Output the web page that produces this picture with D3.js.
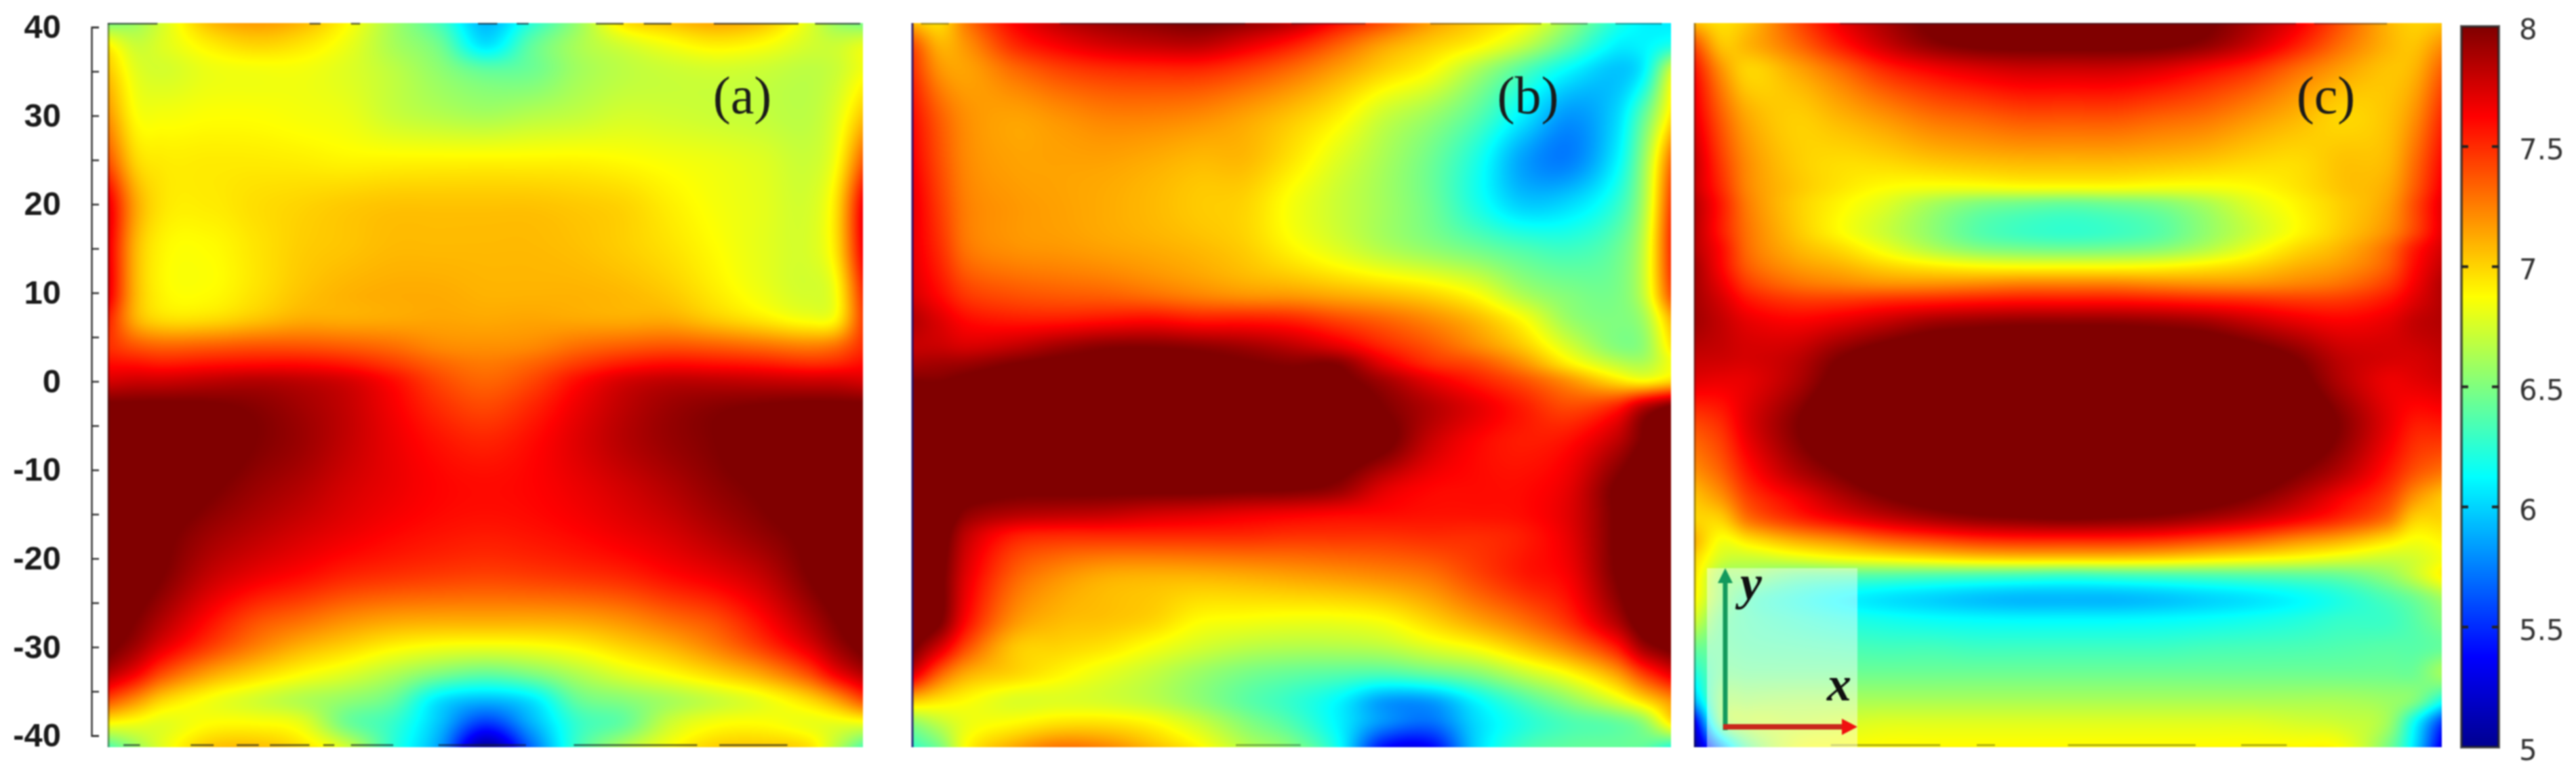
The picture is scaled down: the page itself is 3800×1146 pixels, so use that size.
<!DOCTYPE html>
<html>
<head>
<meta charset="utf-8">
<script src="https://cdn.jsdelivr.net/npm/d3@7"></script>
<style>
  html, body { margin: 0; padding: 0; background: #fff; }
  svg { display: block; filter: blur(0.8px); }
</style>
</head>
<body>
<div id="vis"></div>
<script>
// x positions of the sampled columns, shared by the three maps
var xKnots = [-41, -38, -35, -30, -25, -20, -15, -10, -5, 0, 5, 10, 15, 20, 25, 30, 35, 38, 41];

// values; >8 means inside the saturated dark red area
var yKnotsA = [41, 38, 35, 30, 25, 20, 15, 10, 7, 4, 2, 0, -3, -7, -12, -17, -22, -27, -30, -33, -36, -38.5, -41];
var valuesA = [
  [6.4,6.55,6.75,7.1,7.2,7.12,6.9,6.6,6.3,5.9,6.2,6.55,7.0,7.1,7.18,7.1,6.8,6.55,6.4],
  [6.9,6.72,6.78,6.92,7.0,6.95,6.82,6.62,6.45,6.05,6.4,6.62,6.75,6.85,6.92,6.87,6.75,6.72,6.8],
  [7.05,6.8,6.75,6.82,6.84,6.84,6.78,6.68,6.55,6.42,6.45,6.6,6.68,6.72,6.74,6.72,6.68,6.72,6.85],
  [7.2,6.88,6.85,6.87,6.87,6.85,6.82,6.72,6.66,6.62,6.66,6.7,6.75,6.74,6.72,6.7,6.68,6.78,7.05],
  [7.4,7.0,6.93,6.93,6.93,6.92,6.9,6.9,6.9,6.9,6.9,6.9,6.88,6.85,6.82,6.78,6.72,6.85,7.35],
  [7.7,7.15,6.95,6.93,6.97,7.0,7.03,7.05,7.05,7.05,7.05,7.03,7.0,6.92,6.85,6.8,6.75,6.95,7.65],
  [7.7,7.1,6.9,6.88,6.95,7.02,7.05,7.08,7.08,7.08,7.08,7.06,7.02,6.96,6.88,6.8,6.76,6.95,7.65],
  [7.7,7.1,6.9,6.88,6.96,7.05,7.1,7.12,7.12,7.1,7.1,7.1,7.08,7.03,6.93,6.83,6.75,6.85,7.5],
  [7.55,7.12,6.98,6.98,7.05,7.12,7.12,7.13,7.14,7.13,7.14,7.13,7.12,7.12,7.03,6.94,6.85,6.9,7.45],
  [7.5,7.38,7.33,7.35,7.38,7.38,7.35,7.3,7.22,7.2,7.22,7.3,7.35,7.38,7.35,7.3,7.25,7.3,7.5],
  [7.6,7.58,7.55,7.58,7.6,7.6,7.55,7.45,7.33,7.27,7.33,7.45,7.55,7.6,7.58,7.55,7.5,7.52,7.6],
  [7.75,7.78,7.78,7.82,7.85,7.82,7.75,7.6,7.42,7.33,7.42,7.6,7.75,7.82,7.82,7.8,7.78,7.78,7.75],
  [8.05,8.05,8.05,8.03,7.98,7.9,7.8,7.65,7.5,7.42,7.52,7.68,7.82,7.92,7.98,8.02,8.05,8.05,8.05],
  [8.2,8.2,8.15,8.1,8.0,7.92,7.8,7.68,7.58,7.53,7.6,7.72,7.84,7.93,8.0,8.1,8.15,8.2,8.2],
  [8.2,8.2,8.15,8.03,7.93,7.85,7.75,7.68,7.62,7.6,7.62,7.68,7.76,7.85,7.95,8.03,8.15,8.2,8.2],
  [8.2,8.15,8.05,7.92,7.83,7.75,7.68,7.62,7.58,7.56,7.58,7.62,7.68,7.75,7.85,7.95,8.05,8.15,8.2],
  [8.15,8.1,8.0,7.8,7.68,7.6,7.52,7.48,7.45,7.43,7.45,7.48,7.52,7.6,7.68,7.8,8.0,8.1,8.15],
  [8.1,8.0,7.85,7.6,7.4,7.3,7.2,7.14,7.12,7.12,7.12,7.14,7.2,7.3,7.4,7.6,7.85,8.0,8.1],
  [8.05,7.9,7.7,7.45,7.25,7.1,7.0,6.9,6.84,6.82,6.84,6.9,7.0,7.1,7.25,7.45,7.7,7.9,8.05],
  [7.85,7.65,7.4,7.15,7.0,6.88,6.78,6.65,6.5,6.42,6.5,6.65,6.78,6.88,7.0,7.15,7.4,7.65,7.85],
  [7.4,7.2,7.0,6.85,6.75,6.65,6.55,6.42,6.05,5.92,6.05,6.42,6.52,6.62,6.72,6.82,6.98,7.15,7.4],
  [6.9,6.85,6.8,6.87,6.87,6.8,6.45,6.28,5.95,5.55,5.9,6.28,6.42,6.72,6.85,6.87,6.82,6.82,6.85],
  [6.4,6.6,6.8,7.02,7.05,6.95,6.7,6.25,5.85,5.1,5.7,6.3,6.62,6.85,7.0,7.02,6.95,6.7,6.4]
];

var yKnotsB = [41, 38, 35, 30, 25, 20, 15, 10, 7, 4, 2, 0, -3, -7, -12, -15, -17.5, -22, -27, -30, -33, -36, -38.5, -41];
var valuesB = [
  [7.0,6.95,7.3,7.65,7.85,7.95,8.0,8.05,8.0,7.9,7.65,7.45,7.2,7.05,6.92,6.6,6.25,6.1,6.05],
  [7.4,7.1,7.2,7.5,7.65,7.75,7.8,7.82,7.7,7.55,7.35,7.15,7.02,6.9,6.7,6.4,6.1,6.1,6.2],
  [7.5,7.2,7.15,7.3,7.42,7.48,7.5,7.5,7.42,7.3,7.15,7.0,6.87,6.62,6.35,6.1,5.95,6.1,6.75],
  [7.6,7.35,7.2,7.15,7.2,7.25,7.25,7.22,7.15,7.05,6.92,6.72,6.58,6.38,6.08,5.82,6.0,6.4,6.95],
  [7.65,7.4,7.22,7.15,7.15,7.15,7.12,7.08,7.08,6.95,6.78,6.62,6.45,6.2,5.85,5.75,6.08,6.55,7.3],
  [7.7,7.45,7.25,7.18,7.15,7.12,7.08,7.03,7.0,6.85,6.72,6.6,6.45,6.2,5.98,6.02,6.25,6.62,7.45],
  [7.7,7.5,7.28,7.2,7.18,7.15,7.12,7.08,7.02,6.9,6.78,6.65,6.55,6.45,6.35,6.3,6.42,6.7,7.5],
  [7.75,7.6,7.45,7.38,7.35,7.33,7.28,7.22,7.17,7.15,7.1,7.05,6.98,6.85,6.62,6.5,6.48,6.7,7.4],
  [7.85,7.72,7.6,7.55,7.55,7.58,7.6,7.55,7.55,7.52,7.42,7.33,7.22,7.08,6.87,6.58,6.5,6.6,7.1],
  [7.8,7.78,7.74,7.8,7.9,7.97,7.98,7.95,7.9,7.82,7.7,7.52,7.38,7.22,7.03,6.75,6.52,6.55,6.95],
  [7.88,7.9,7.92,8.0,8.05,8.05,8.05,8.05,8.02,7.98,7.98,7.7,7.5,7.4,7.2,6.92,6.7,6.65,6.85],
  [8.0,8.0,8.05,8.1,8.15,8.15,8.12,8.1,8.07,8.05,8.05,7.9,7.7,7.55,7.4,7.2,6.98,6.9,7.0],
  [8.2,8.2,8.2,8.2,8.2,8.2,8.2,8.2,8.2,8.15,8.15,8.0,7.85,7.7,7.55,7.42,7.55,7.85,8.05],
  [8.2,8.2,8.2,8.2,8.2,8.2,8.2,8.2,8.2,8.2,8.15,8.05,7.78,7.62,7.55,7.6,7.82,8.02,8.1],
  [8.1,8.1,8.1,8.05,8.05,8.05,8.05,8.05,8.03,8.02,7.95,7.72,7.62,7.6,7.6,7.7,8.02,8.15,8.2],
  [8.2,8.15,7.95,7.85,7.82,7.8,7.75,7.72,7.68,7.65,7.62,7.6,7.58,7.58,7.6,7.72,8.02,8.2,8.2],
  [8.2,8.1,7.8,7.55,7.5,7.5,7.5,7.5,7.5,7.48,7.48,7.48,7.5,7.5,7.55,7.7,8.02,8.2,8.2],
  [8.15,8.05,7.7,7.35,7.2,7.12,7.1,7.1,7.12,7.15,7.18,7.22,7.28,7.42,7.55,7.65,8.0,8.15,8.2],
  [8.15,8.02,7.6,7.2,7.08,7.05,7.0,6.88,6.85,6.83,6.83,6.87,7.0,7.15,7.3,7.5,7.85,8.1,8.15],
  [8.05,7.75,7.4,7.05,7.0,6.95,6.85,6.75,6.68,6.65,6.65,6.68,6.78,6.88,7.05,7.25,7.55,7.9,8.05],
  [7.75,7.35,7.12,7.0,6.9,6.8,6.7,6.58,6.48,6.42,6.38,6.35,6.42,6.52,6.7,6.88,7.15,7.45,7.7],
  [7.05,6.95,6.88,6.78,6.78,6.75,6.68,6.55,6.4,6.28,6.12,5.85,5.85,6.12,6.35,6.55,6.78,6.98,7.2],
  [6.55,6.7,6.82,6.88,6.95,6.95,6.88,6.72,6.52,6.35,6.1,5.8,5.7,6.02,6.22,6.35,6.42,6.55,6.95],
  [6.3,6.5,6.88,7.1,7.25,7.2,7.05,6.88,6.65,6.5,6.15,5.45,5.4,6.0,6.3,6.4,6.42,6.42,6.3]
];

var yKnotsC = [41, 38, 35, 30, 25, 22, 20, 17, 15, 13, 11, 9, 6.5, 3, 0, -5, -10, -13, -15.5, -18, -20, -22, -24.5, -27, -30, -33, -36, -38.5, -41];
var valuesC = [
  [7.0,6.95,7.05,7.4,7.7,7.9,8.05,8.15,8.2,8.2,8.2,8.15,8.05,7.9,7.7,7.4,7.1,7.0,7.0],
  [7.4,7.05,7.1,7.3,7.55,7.78,7.95,8.03,8.05,8.05,8.05,8.03,7.95,7.78,7.55,7.3,7.1,7.05,7.2],
  [7.6,7.2,7.0,7.12,7.3,7.5,7.62,7.7,7.75,7.75,7.75,7.7,7.6,7.48,7.3,7.15,7.05,7.1,7.35],
  [7.7,7.35,7.12,7.02,7.1,7.2,7.3,7.35,7.4,7.4,7.4,7.35,7.3,7.2,7.1,7.0,7.05,7.2,7.5],
  [7.8,7.45,7.2,7.03,6.98,7.0,7.05,7.08,7.1,7.1,7.1,7.08,7.05,7.0,6.98,7.05,7.08,7.3,7.6],
  [7.8,7.5,7.22,7.05,6.95,6.88,6.85,6.85,6.87,6.87,6.87,6.85,6.85,6.88,6.95,7.05,7.12,7.35,7.65],
  [7.85,7.55,7.25,7.03,6.9,6.78,6.62,6.5,6.45,6.42,6.45,6.5,6.62,6.78,6.9,7.02,7.15,7.4,7.7],
  [7.85,7.55,7.28,7.05,6.88,6.72,6.55,6.38,6.3,6.27,6.3,6.38,6.55,6.72,6.88,7.03,7.2,7.42,7.7],
  [7.85,7.6,7.3,7.1,6.98,6.82,6.65,6.52,6.47,6.45,6.47,6.52,6.65,6.82,6.98,7.1,7.3,7.55,7.75],
  [7.9,7.62,7.35,7.18,7.1,7.0,6.93,6.88,6.86,6.86,6.86,6.88,6.93,7.0,7.1,7.18,7.35,7.6,7.8],
  [7.9,7.68,7.45,7.3,7.24,7.2,7.2,7.22,7.25,7.25,7.25,7.22,7.2,7.2,7.24,7.3,7.45,7.65,7.85],
  [7.9,7.75,7.58,7.48,7.48,7.52,7.55,7.58,7.6,7.6,7.6,7.58,7.55,7.52,7.48,7.48,7.58,7.72,7.85],
  [7.9,7.8,7.7,7.65,7.72,7.82,7.92,7.96,7.98,7.98,7.98,7.96,7.92,7.82,7.72,7.65,7.7,7.8,7.85],
  [7.8,7.78,7.75,7.8,7.98,8.1,8.15,8.15,8.15,8.15,8.15,8.15,8.15,8.1,7.98,7.8,7.75,7.75,7.8],
  [7.7,7.68,7.7,7.85,8.08,8.2,8.2,8.2,8.2,8.2,8.2,8.2,8.2,8.2,8.08,7.85,7.68,7.7,7.75],
  [7.4,7.5,7.72,7.98,8.2,8.2,8.2,8.2,8.2,8.2,8.2,8.2,8.2,8.2,8.2,7.98,7.7,7.55,7.55],
  [7.2,7.35,7.58,7.85,8.02,8.15,8.2,8.2,8.2,8.2,8.2,8.2,8.2,8.15,8.02,7.85,7.58,7.4,7.3],
  [7.05,7.2,7.45,7.65,7.85,8.0,8.08,8.1,8.1,8.1,8.1,8.1,8.08,8.0,7.85,7.65,7.45,7.2,7.05],
  [7.0,7.02,7.3,7.5,7.65,7.78,7.88,7.95,7.98,8.0,7.98,7.95,7.88,7.78,7.65,7.5,7.3,7.02,7.0],
  [7.1,6.85,6.95,7.1,7.2,7.32,7.4,7.47,7.5,7.5,7.5,7.47,7.4,7.32,7.2,7.1,6.95,6.85,6.9],
  [7.0,6.75,6.72,6.78,6.85,6.9,6.95,7.0,7.02,7.02,7.02,7.0,6.95,6.9,6.85,6.78,6.72,6.75,6.85],
  [6.95,6.6,6.55,6.42,6.38,6.36,6.34,6.32,6.3,6.28,6.3,6.32,6.34,6.36,6.38,6.42,6.55,6.7,6.9],
  [6.9,6.55,6.35,6.22,6.12,6.05,6.0,5.95,5.92,5.92,5.92,5.95,6.0,6.05,6.12,6.22,6.35,6.45,6.6],
  [6.75,6.45,6.35,6.28,6.22,6.18,6.15,6.13,6.12,6.12,6.12,6.13,6.15,6.18,6.22,6.28,6.3,6.38,6.5],
  [6.45,6.42,6.38,6.36,6.34,6.32,6.32,6.3,6.3,6.3,6.3,6.3,6.32,6.33,6.34,6.36,6.38,6.38,6.42],
  [6.2,6.45,6.45,6.45,6.45,6.45,6.45,6.45,6.45,6.45,6.45,6.45,6.45,6.45,6.45,6.45,6.45,6.45,6.6],
  [5.9,6.55,6.6,6.62,6.62,6.62,6.62,6.62,6.62,6.62,6.62,6.62,6.62,6.62,6.62,6.62,6.58,6.5,6.2],
  [5.3,6.5,6.7,6.72,6.75,6.78,6.78,6.78,6.78,6.78,6.78,6.78,6.78,6.78,6.75,6.72,6.6,6.15,5.55],
  [5.05,5.9,6.45,6.8,6.85,6.88,6.88,6.88,6.88,6.88,6.88,6.88,6.88,6.88,6.88,6.85,6.5,6.05,5.3]
];

// dark scan marks along the top and bottom edges, [from, to] in x units
var marksTopA = [[-41,-35.6],[-19.1,-17.9],[-14.6,-13.6],[-0.8,1.3],[3.4,4.7],[12,15],[17.2,20.2],[24.8,34],[35.8,40.7]];
var marksBottomA = [[-39.3,-37.5],[-32,-29.5],[-27,-24.6],[-23.4,-19.1],[-17.6,-16.4],[-14.6,-10],[-5.1,4.4],[9.6,23],[25.4,32.8]];
var marksTopB = [[-40,-37],[-25,-5],[0,8],[15,27],[28,32],[35,40]];
var marksBottomB = [[-6,1]];
var marksTopC = [[-25,25],[27,35]];
var marksBottomC = [[-26,-14],[-10,-8],[0,14],[19,24]];

var yMajor = [40, 30, 20, 10, 0, -10, -20, -30, -40];
var yMinor = [35, 25, 15, 5, -5, -15, -25, -35];
var barTicks = [8, 7.5, 7, 6.5, 6, 5.5, 5];

var panelLabels = ["(a)", "(b)", "(c)"];

var width = 3800;
var height = 1146;

// jet colour map between 5 and 8, saturated at both ends
var jetDomain = [5, 5.375, 6.125, 6.875, 7.625, 8];
var jetRange = ["#00008f", "#0000ff", "#00ffff", "#ffff00", "#ff0000", "#800000"];
var color = d3.scaleLinear().domain(jetDomain).range(jetRange).clamp(true);

var yScale = d3.scaleLinear().domain([40, -40]).range([40, 1085]);
var barScale = d3.scaleLinear().domain([8, 5]).range([39, 1102]);

var panels = [
  { label: panelLabels[0], left: 159, right: 1273, labelX: 1095, rows: yKnotsA, values: valuesA, top: marksTopA, bottom: marksBottomA, edge: "#222", edgeOpacity: 0.45, markOpacity: 0.7 },
  { label: panelLabels[1], left: 1345, right: 2465, labelX: 2254, rows: yKnotsB, values: valuesB, top: marksTopB, bottom: marksBottomB, edge: "#1a1070", edgeOpacity: 0.9, markOpacity: 0.4 },
  { label: panelLabels[2], left: 2499, right: 3602, labelX: 3431, rows: yKnotsC, values: valuesC, top: marksTopC, bottom: marksBottomC, edge: "#222", edgeOpacity: 0.4, markOpacity: 0.4 }
];

// Hermite shading between the samples on an uneven grid
function hermite(knots, vals, v) {
  var n = knots.length;
  var asc = knots[1] > knots[0];
  var i = 0;
  while (i < n - 2 && (asc ? v > knots[i + 1] : v < knots[i + 1])) i++;
  var h = knots[i + 1] - knots[i];
  var t = (v - knots[i]) / h;
  var m0 = i > 0 ? (vals[i + 1] - vals[i - 1]) / (knots[i + 1] - knots[i - 1]) : (vals[1] - vals[0]) / h;
  var m1 = i < n - 2 ? (vals[i + 2] - vals[i]) / (knots[i + 2] - knots[i]) : (vals[n - 1] - vals[n - 2]) / h;
  var t2 = t * t, t3 = t2 * t;
  return (2 * t3 - 3 * t2 + 1) * vals[i] + (t3 - 2 * t2 + t) * h * m0 +
    (-2 * t3 + 3 * t2) * vals[i + 1] + (t3 - t2) * h * m1;
}

function heatmapUrl(p, x, pxTop, pxBottom) {
  var w = p.right - p.left, h = pxBottom - pxTop;
  var canvas = document.createElement("canvas");
  canvas.width = w;
  canvas.height = h;
  var ctx = canvas.getContext("2d");
  var img = ctx.createImageData(w, h);
  // lookup table is much cheaper than calling the scale per pixel
  var lut = d3.range(0, 601).map(function (i) { return d3.rgb(color(5 + i / 200)); });
  var rowVals = p.values.map(function (row) {
    return d3.range(w).map(function (c) { return hermite(xKnots, row, x.invert(p.left + c + 0.5)); });
  });
  for (var c = 0; c < w; c++) {
    var col = rowVals.map(function (r) { return r[c]; });
    for (var r = 0; r < h; r++) {
      var v = hermite(p.rows, col, yScale.invert(pxTop + r + 0.5));
      var k = Math.max(0, Math.min(600, Math.round((v - 5) * 200)));
      var o = (r * w + c) * 4;
      img.data[o] = lut[k].r;
      img.data[o + 1] = lut[k].g;
      img.data[o + 2] = lut[k].b;
      img.data[o + 3] = 255;
    }
  }
  ctx.putImageData(img, 0, 0);
  return canvas.toDataURL("image/png");
}

var svg = d3.select("#vis").append("svg")
  .attr("width", width)
  .attr("height", height)
  .attr("viewBox", [0, 0, width, height]);

svg.append("rect").attr("width", width).attr("height", height).attr("fill", "#fff");

var pxTop = 34;
var pxBottom = 1102;

panels.forEach(function (p) {
  var x = d3.scaleLinear().domain([-41, 41]).range([p.left, p.right]);
  var g = svg.append("g");

  g.append("image")
    .attr("x", p.left)
    .attr("y", pxTop)
    .attr("width", p.right - p.left)
    .attr("height", pxBottom - pxTop)
    .attr("href", heatmapUrl(p, x, pxTop, pxBottom));

  g.selectAll("line.top").data(p.top).enter().append("line")
    .attr("x1", function (d) { return x(d[0]); })
    .attr("x2", function (d) { return x(d[1]); })
    .attr("y1", pxTop + 1).attr("y2", pxTop + 1)
    .attr("stroke", "#1a2030").attr("stroke-opacity", p.markOpacity).attr("stroke-width", 2.5);

  g.selectAll("line.bottom").data(p.bottom).enter().append("line")
    .attr("x1", function (d) { return x(d[0]); })
    .attr("x2", function (d) { return x(d[1]); })
    .attr("y1", pxBottom - 3).attr("y2", pxBottom - 3)
    .attr("stroke", "#1a2030").attr("stroke-opacity", p.markOpacity).attr("stroke-width", 2.5);

  g.append("line")
    .attr("x1", p.left + 1).attr("x2", p.left + 1)
    .attr("y1", pxTop).attr("y2", pxBottom)
    .attr("stroke", p.edge).attr("stroke-opacity", p.edgeOpacity).attr("stroke-width", 3);

  g.append("text")
    .attr("x", p.labelX)
    .attr("y", 167)
    .attr("text-anchor", "middle")
    .attr("font-family", "'Liberation Serif'")
    .attr("font-size", 78)
    .attr("fill", "#1a1a1a")
    .text(p.label);
});

// inset with the direction arrows on panel (c)
var inset = svg.append("g");
inset.append("rect")
  .attr("x", 2518).attr("y", 838).attr("width", 222).attr("height", 264)
  .attr("fill", "#fff").attr("fill-opacity", 0.45);

inset.append("line")
  .attr("x1", 2545).attr("x2", 2545).attr("y1", 1077).attr("y2", 858)
  .attr("stroke", "#139a5c").attr("stroke-width", 7);
inset.append("path")
  .attr("d", d3.line()([[2534, 860], [2545, 838], [2556, 860]]) + "Z")
  .attr("fill", "#139a5c");
inset.append("line")
  .attr("x1", 2542).attr("x2", 2720).attr("y1", 1072).attr("y2", 1072)
  .attr("stroke", "#c9281c").attr("stroke-width", 8);
inset.append("path")
  .attr("d", d3.line()([[2717, 1060], [2740, 1072], [2717, 1084]]) + "Z")
  .attr("fill", "#f01010");
inset.append("text")
  .attr("x", 2583).attr("y", 884).attr("text-anchor", "middle")
  .attr("font-family", "'Liberation Serif'").attr("font-style", "italic").attr("font-weight", "bold")
  .attr("font-size", 72).attr("fill", "#111").text("y");
inset.append("text")
  .attr("x", 2713).attr("y", 1033).attr("text-anchor", "middle")
  .attr("font-family", "'Liberation Serif'").attr("font-style", "italic").attr("font-weight", "bold")
  .attr("font-size", 72).attr("fill", "#111").text("x");

// y axis of panel (a): ticks point into the plot, labels sit further left
var yAxisLine = svg.append("g")
  .attr("transform", "translate(135,0)")
  .call(d3.axisRight(yScale).tickValues(yMajor.concat(yMinor)).tickSize(11).tickSizeOuter(11).tickFormat(""));
yAxisLine.selectAll("path, line").attr("stroke", "#333").attr("stroke-width", 2.5);

var yAxisLabels = svg.append("g")
  .attr("transform", "translate(135,0)")
  .call(d3.axisLeft(yScale).tickValues(yMajor).tickSize(0).tickPadding(45).tickFormat(function (d) { return String(d); }));
yAxisLabels.select(".domain").remove();
yAxisLabels.selectAll("text")
  .attr("font-family", "'Liberation Sans'")
  .attr("font-weight", "bold")
  .attr("font-size", 49)
  .attr("fill", "#1a1a1a");

// colour bar
var defs = svg.append("defs");
var grad = defs.append("linearGradient")
  .attr("id", "jet").attr("x1", 0).attr("x2", 0).attr("y1", 1).attr("y2", 0);
grad.selectAll("stop").data(jetDomain).enter().append("stop")
  .attr("offset", function (d) { return (d - 5) / 3; })
  .attr("stop-color", function (d) { return color(d); });

var barLeft = 3631, barRight = 3686;
svg.append("rect")
  .attr("x", barLeft).attr("y", barScale(8))
  .attr("width", barRight - barLeft).attr("height", barScale(5) - barScale(8))
  .attr("fill", "url(#jet)")
  .attr("stroke", "#222").attr("stroke-opacity", 0.75).attr("stroke-width", 4);

var barG = svg.append("g");
barG.selectAll("line.l").data(barTicks.slice(1, -1)).enter().append("line")
  .attr("x1", barLeft).attr("x2", barLeft + 10)
  .attr("y1", barScale).attr("y2", barScale)
  .attr("stroke", "#222").attr("stroke-width", 4);
barG.selectAll("line.r").data(barTicks.slice(1, -1)).enter().append("line")
  .attr("x1", barRight - 10).attr("x2", barRight)
  .attr("y1", barScale).attr("y2", barScale)
  .attr("stroke", "#222").attr("stroke-width", 4);
barG.selectAll("text").data(barTicks).enter().append("text")
  .attr("x", 3716)
  .attr("y", function (d) { return barScale(d) + 19; })
  .attr("font-family", "'DejaVu Sans'")
  .attr("font-size", 42)
  .attr("fill", "#333")
  .text(function (d) { return d; });
</script>
</body>
</html>
